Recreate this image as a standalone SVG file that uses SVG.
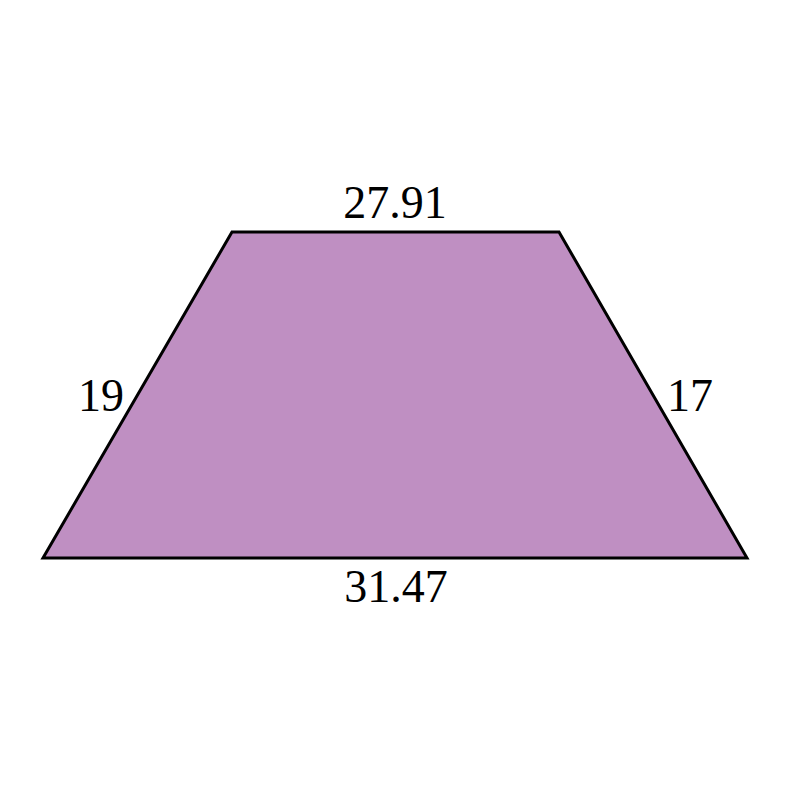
<svg xmlns="http://www.w3.org/2000/svg" width="791" height="791" viewBox="0 0 791 791">
<style>
.lbl{font-family:"Liberation Serif","DejaVu Serif",serif;font-size:46px;fill:#000}
</style>
<rect width="791" height="791" fill="#fff"/>
<g id="trapezoid">
<polygon points="232,232 559,232 747,558 43,558" fill="#bf8fc2" stroke="#000" stroke-width="3" stroke-linejoin="miter"/>
</g>
<g id="labels">
<text class="lbl" x="395" y="218" text-anchor="middle">27.91</text>
<text class="lbl" x="101" y="411" text-anchor="middle">19</text>
<text class="lbl" x="690" y="411" text-anchor="middle">17</text>
<text class="lbl" x="396" y="602" text-anchor="middle">31.47</text>
</g>
</svg>
